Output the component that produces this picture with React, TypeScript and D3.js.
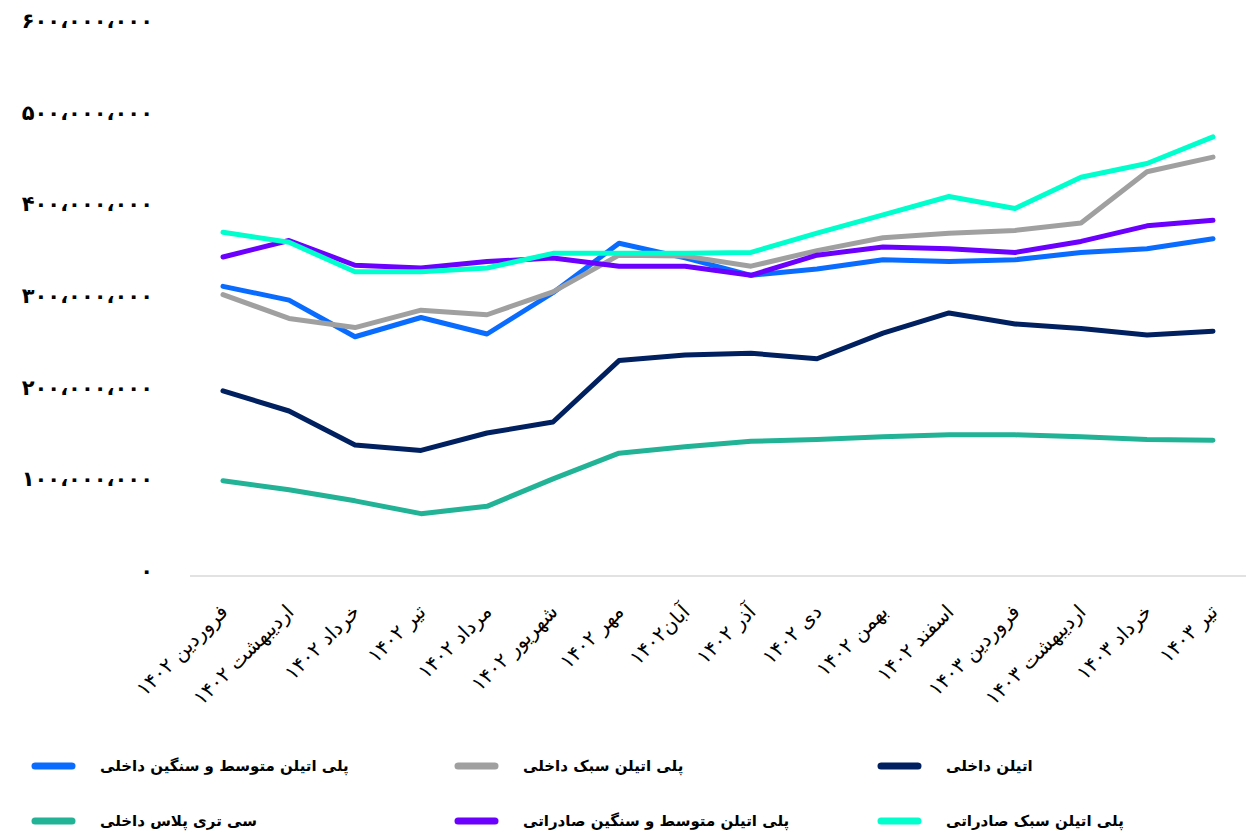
import React from "react";
import * as d3 from "d3";

const categories = [
  "فروردین ۱۴۰۲", "اردیبهشت ۱۴۰۲", "خرداد ۱۴۰۲", "تیر ۱۴۰۲", "مرداد ۱۴۰۲", "شهریور ۱۴۰۲",
  "مهر ۱۴۰۲", "آبان۱۴۰۲", "آذر ۱۴۰۲", "دی ۱۴۰۲", "بهمن ۱۴۰۲", "اسفند ۱۴۰۲",
  "فروردین  ۱۴۰۳", "اردیبهشت ۱۴۰۳", "خرداد ۱۴۰۳", "تیر ۱۴۰۳",
];

// values in millions
const peMedHeavyDomestic = [316, 301, 261, 282, 264, 309, 363, 347, 328, 335, 345, 343, 345, 353, 357, 368];
const peLightDomestic = [307, 281, 271, 290, 285, 310, 350, 349, 338, 355, 369, 374, 377, 385, 441, 457];
const ethyleneDomestic = [202, 180, 143, 137, 156, 168, 235, 241, 243, 237, 265, 287, 275, 270, 263, 267];
const c3Domestic = [104, 94, 82, 68, 76, 106, 134, 141, 147, 149, 152, 154, 154, 152, 149, 148];
const peMedHeavyExport = [348, 366, 339, 336, 343, 347, 338, 338, 328, 350, 359, 357, 353, 365, 382, 388];
const peLightExport = [375, 364, 332, 332, 336, 352, 352, 352, 353, 374, 394, 414, 401, 435, 450, 479];

const yTicks = [0, 100, 200, 300, 400, 500, 600];

const seriesNames = [
  "پلی اتیلن متوسط و سنگین داخلی",
  "پلی اتیلن سبک داخلی",
  "اتیلن داخلی",
  "سی تری پلاس داخلی",
  "پلی اتیلن متوسط و سنگین صادراتی",
  "پلی اتیلن سبک صادراتی",
];
const seriesValues = [peMedHeavyDomestic, peLightDomestic, ethyleneDomestic, c3Domestic, peMedHeavyExport, peLightExport];
const seriesColors = ["#0A6CFF", "#A0A0A0", "#002060", "#22B396", "#6B00FF", "#00FFCC"];

const faDigits = "۰۱۲۳۴۵۶۷۸۹";
function toFa(s: string) {
  return s.replace(/[0-9]/g, (d) => faDigits[+d]).replace(/,/g, "،");
}

export default function App() {
  const W = 1248, H = 833;
  const x = d3.scaleBand<number>().domain(d3.range(categories.length)).range([190, 1246]);
  const y = d3.scaleLinear().domain([0, 600]).range([576, 26]);
  const cx = (i: number) => (x(i) as number) + x.bandwidth() / 2;
  const line = d3.line<number>().x((_, i) => cx(i)).y((v) => y(v));
  const font = "'DejaVu Sans', sans-serif";

  const legendCols = [32, 455, 878];
  const legendRows = [766, 821];

  return (
    <svg width={W} height={H} style={{ position: "absolute", left: 0, top: 0, background: "#fff" }}>
      <rect x={0} y={0} width={W} height={H} fill="#fff" />
      {yTicks.map((t) => (
        <text key={t} x={153} y={y(t) - 5} textAnchor="end" dominantBaseline="central"
          fontFamily={font} fontWeight="bold" fontSize={21} fill="#000">
          {toFa(d3.format(",")(t * 1000000))}
        </text>
      ))}
      <line x1={190} x2={1246} y1={y(0)} y2={y(0)} stroke="#D9D9D9" strokeWidth={1.5} />
      {categories.map((c, i) => (
        <text key={i} transform={`translate(${cx(i) + 1},${608}) rotate(-45)`} textAnchor="end"
          dominantBaseline="central" fontFamily={font} fontSize={20} fill="#000">
          {c}
        </text>
      ))}
      {seriesValues.map((vals, k) => (
        <path key={k} d={line(vals) || ""} fill="none" stroke={seriesColors[k]} strokeWidth={5}
          strokeLinecap="round" strokeLinejoin="round" />
      ))}
      {seriesNames.map((n, k) => {
        const col = k % 3, row = Math.floor(k / 3);
        const lx = legendCols[col], ly = legendRows[row];
        return (
          <g key={k}>
            <line x1={lx + 3} x2={lx + 40} y1={ly} y2={ly} stroke={seriesColors[k]} strokeWidth={7} strokeLinecap="round" />
            <text x={lx + 68} y={ly} dominantBaseline="central" fontFamily={font} fontWeight="bold" fontSize={15} fill="#000">
              {n}
            </text>
          </g>
        );
      })}
    </svg>
  );
}
